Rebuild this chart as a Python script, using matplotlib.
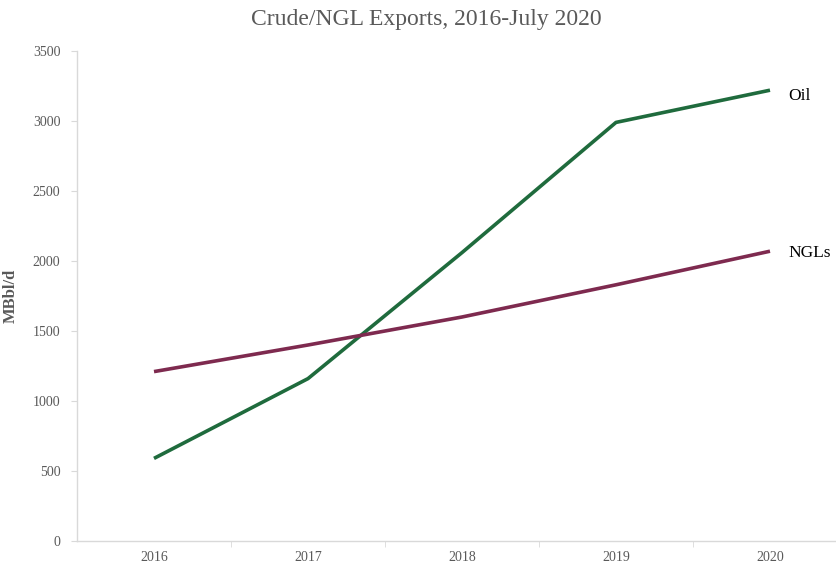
import matplotlib
matplotlib.use("Agg")
import matplotlib.pyplot as plt
import numpy as np

plt.rcParams['font.family'] = ['Liberation Serif', 'DejaVu Serif']

years = ['2016', '2017', '2018', '2019', '2020']
oil = [590, 1160, 2060, 2990, 3220]
ngls = [1210, 1400, 1600, 1830, 2070]

grey = '#595959'
axis_grey = '#d9d9d9'

fig = plt.figure(figsize=(8.36, 5.63), dpi=100)
# category axis runs past the right edge, as in the original
ax = fig.add_axes([77 / 836, 22 / 563, 770 / 836, 490 / 563])

x = np.arange(len(years))
ax.plot(x, oil, color='#1f6b3d', lw=2.6, solid_capstyle='butt')
ax.plot(x, ngls, color='#7e2a4f', lw=2.6, solid_capstyle='butt')

ax.text(4.12, oil[-1] - 40, 'Oil', fontsize=12.5, color='black', va='center', ha='left')
ax.text(4.12, ngls[-1] - 15, 'NGLs', fontsize=12.5, color='black', va='center', ha='left')

ax.set_xlim(-0.5, 4.5)
ax.set_ylim(0, 3500)
ax.set_yticks(np.arange(0, 3501, 500))
ax.set_xticks(x)
ax.set_xticklabels(years)
ax.set_xticks(np.arange(0.5, 4.5, 1), minor=True)

ax.tick_params(axis='x', which='major', length=0, pad=7, labelsize=10, labelcolor=grey)
ax.tick_params(axis='x', which='minor', length=4, color=axis_grey, direction='out')
ax.tick_params(axis='y', length=4, color=axis_grey, pad=8, labelsize=10, labelcolor=grey)

for s in ['top', 'right']:
    ax.spines[s].set_visible(False)
for s in ['left', 'bottom']:
    ax.spines[s].set_color(axis_grey)
    ax.spines[s].set_linewidth(1)

ax.set_ylabel('MBbl/d', fontsize=12, fontweight='bold', color=grey, labelpad=10)

fig.text(0.51, 0.965, 'Crude/NGL Exports, 2016-July 2020', ha='center', va='center',
         fontsize=17, color=grey)

fig.savefig('out.png', dpi=100)
